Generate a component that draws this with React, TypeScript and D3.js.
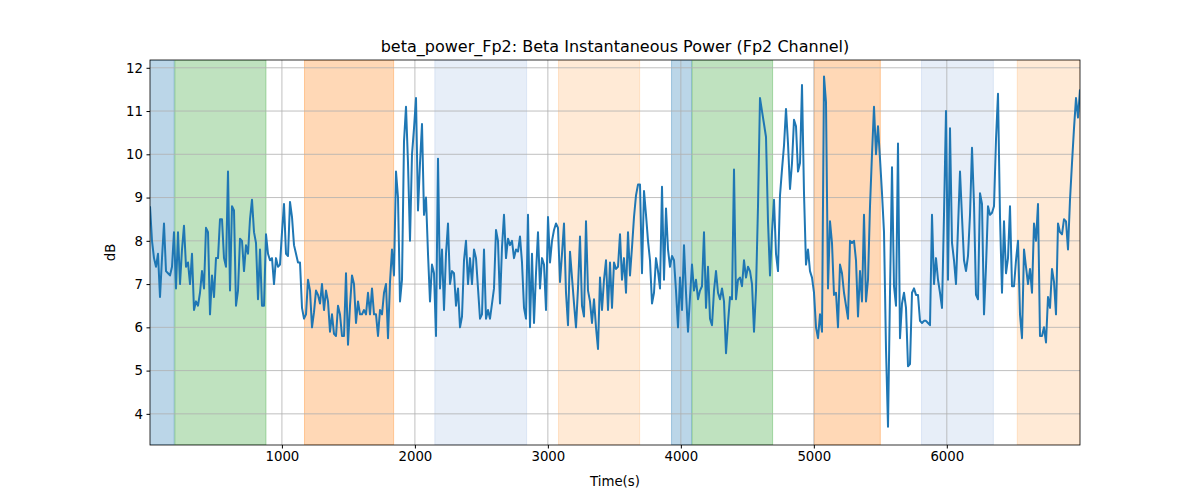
import React, { useEffect, useRef } from 'react';
import * as d3 from 'd3';

const title = 'beta_power_Fp2: Beta Instantaneous Power (Fp2 Channel)';
const tStart = 8;
const tStep = 15.04;

const values1 = [8.8, 8.0, 7.6, 7.4, 7.7, 6.7, 7.6, 8.4, 7.3, 7.25, 7.2, 7.4, 8.2, 6.9, 8.2, 7.0, 7.8, 8.35, 7.4, 7.5, 7.0, 7.7, 6.4, 6.6, 6.5, 6.8, 7.3, 6.9, 8.3, 8.2, 6.3, 7.2, 6.7, 7.6, 7.6, 8.5, 8.5, 7.6, 7.4, 9.6, 6.85, 8.8, 8.7, 6.5, 6.85, 8.05, 8.0, 7.3, 7.9, 7.7, 8.5, 8.95, 8.2, 7.95, 6.65, 7.8, 6.5, 6.5, 8.15, 7.7, 7.55, 7.6, 7.0, 7.6, 7.4, 7.45, 8.2, 8.85, 7.7, 7.65, 8.9, 8.55, 7.9, 7.7, 7.5, 7.5, 6.45, 6.2, 6.3, 7.1, 6.85, 6.0, 6.35, 6.85, 6.75, 6.55, 7.0, 6.4, 6.85, 6.6, 5.9, 6.3, 5.85, 5.8, 6.5, 6.3, 5.8, 5.8, 7.25, 5.6, 6.5, 7.2, 7.0, 6.1, 6.6, 6.3, 6.3, 6.4, 6.3, 6.8, 6.3, 6.9, 6.3, 6.3, 5.8, 6.4, 6.3, 6.8, 7.0, 5.75, 7.05];
const values2 = [7.8, 7.2, 9.6, 9.0, 6.6, 7.1, 10.3, 11.1, 9.8, 8.0, 10.0, 10.6, 11.3, 8.7, 9.8, 10.7, 8.6, 9.0, 7.7, 6.6, 7.45, 7.25, 5.8, 9.9, 6.9, 7.8, 6.4, 7.7, 8.4, 7.0, 7.3, 7.25, 6.5, 6.9, 6.0, 6.25, 7.55, 8.0, 7.0, 7.6, 7.0, 7.8, 7.6, 6.9, 6.2, 6.3, 7.8, 6.2, 6.4, 6.2, 6.55, 6.9, 8.25, 8.0, 6.55, 7.85, 8.6, 7.6, 8.05, 7.9, 8.0, 7.6, 7.8, 7.75, 8.1, 7.5, 6.45, 6.2, 8.6, 6.0, 7.7, 6.1, 7.25, 8.2, 6.9, 7.6, 7.45, 6.4, 8.55, 7.5, 8.0, 8.25, 8.4, 8.3, 7.05, 7.7, 8.4, 6.8, 6.05, 7.75, 7.15, 6.55, 6.0, 6.9, 8.1, 6.5, 6.25, 8.45, 6.85, 6.6, 6.1, 6.65, 6.0, 5.5, 7.15, 6.4, 7.1, 7.55, 6.4, 7.5, 6.45, 7.5, 7.35, 7.4, 8.15];
const values3 = [7.1, 7.6, 6.8, 8.2, 7.2, 7.85, 8.55, 9.05, 9.3, 9.3, 7.25, 9.15, 8.6, 8.0, 7.55, 6.55, 6.8, 7.6, 7.3, 6.9, 9.25, 7.1, 8.75, 7.8, 7.4, 7.65, 7.55, 6.85, 6.0, 7.15, 6.4, 7.9, 6.8, 5.9, 6.7, 7.45, 6.85, 7.1, 6.65, 6.85, 6.95, 8.2, 6.45, 7.4, 6.2, 6.05, 6.85, 7.3, 6.8, 6.65, 6.9, 6.6, 5.4, 6.1, 6.7, 6.65, 9.65, 6.65, 7.1, 7.15, 6.95, 7.55, 7.15, 7.4, 7.3, 7.0, 5.9, 6.85, 8.8, 11.3, 11.0, 10.7, 10.4, 8.45, 7.2, 8.2, 8.95, 7.7, 7.3, 9.05, 9.65, 10.2, 11.05, 10.25, 9.2, 9.8, 10.8, 10.65, 9.6, 9.8, 11.6, 9.1, 7.45, 7.8, 7.3, 7.15, 6.8, 6.0, 5.75, 6.3, 5.9, 11.8, 11.2, 6.9, 8.45, 7.95, 6.75, 6.8, 6.0, 7.45, 7.25, 6.8, 6.5, 6.2, 8.0];
const values4 = [7.95, 8.0, 7.55, 6.25, 7.3, 6.6, 8.6, 6.6, 7.1, 8.8, 10.0, 11.1, 10.0, 10.65, 9.9, 9.1, 8.2, 5.5, 3.7, 6.8, 9.7, 6.95, 6.5, 10.25, 5.75, 6.55, 6.8, 6.45, 5.1, 5.15, 6.8, 6.9, 6.75, 6.75, 6.15, 6.1, 6.15, 6.15, 6.1, 6.05, 8.6, 7.0, 7.6, 7.1, 6.8, 6.45, 8.6, 11.0, 7.1, 10.6, 7.95, 7.55, 7.0, 8.3, 9.6, 8.55, 7.55, 7.3, 7.65, 8.6, 10.15, 8.85, 6.75, 6.65, 9.1, 8.85, 6.3, 7.4, 8.8, 8.6, 8.65, 8.8, 10.35, 11.4, 8.55, 6.8, 8.45, 7.25, 7.6, 8.8, 6.95, 6.95, 7.55, 8.0, 6.3, 5.75, 7.8, 7.4, 7.0, 7.35, 6.8, 8.4, 8.0, 8.85, 5.8, 5.8, 6.0, 5.65, 6.7, 6.45, 7.35, 7.05, 6.3, 8.4, 8.2, 8.15, 8.5, 8.45, 7.8, 8.95, 9.8, 10.6, 11.3, 10.85, 11.5];

const values = [...values1, ...values2, ...values3, ...values4];

// shaded bands: start, end, colour
const spanStarts = [0, 195, 1170, 2150, 3080, 3930, 4085, 5005, 5810, 6530];
const spanEnds = [190, 880, 1840, 2840, 3690, 4080, 4690, 5500, 6350, 7000];
const spanColors = ['#1f77b4', '#2ca02c', '#ff7f0e', '#aec7e8', '#ffbb78', '#1f77b4', '#2ca02c', '#ff7f0e', '#aec7e8', '#ffbb78'];

const xTicks = [1000, 2000, 3000, 4000, 5000, 6000];
const yTicks = [4, 5, 6, 7, 8, 9, 10, 11, 12];

const App: React.FC = () => {
  const svgRef = useRef<SVGSVGElement>(null);

  useEffect(() => {
    document.body.style.margin = '0';
    const svg = d3.select(svgRef.current);
    svg.selectAll('*').remove();
    const font = 'DejaVu Sans, sans-serif';

    const left = 150, right = 1080, top = 60, bottom = 445;
    const times = values.map((_, i) => tStart + i * tStep);
    const x = d3.scaleLinear().domain([tStart, times[times.length - 1]]).range([left, right]);
    const y = d3.scaleLinear().domain([3.28, 12.18]).range([bottom, top]);

    svg.append('rect').attr('width', 1200).attr('height', 500).attr('fill', '#fff');

    const clip = svg.append('defs').append('clipPath').attr('id', 'plot');
    clip.append('rect').attr('x', left).attr('y', top).attr('width', right - left).attr('height', bottom - top);

    const plot = svg.append('g').attr('clip-path', 'url(#plot)');

    plot.selectAll('.span')
      .data(spanStarts)
      .enter().append('rect')
      .attr('x', (d) => x(d))
      .attr('y', top)
      .attr('width', (d, i) => x(spanEnds[i]) - x(d))
      .attr('height', bottom - top)
      .attr('fill', (d, i) => spanColors[i])
      .attr('fill-opacity', 0.3)
      .attr('stroke', (d, i) => spanColors[i])
      .attr('stroke-opacity', 0.35);

    // grid
    plot.selectAll('.gx').data(xTicks).enter().append('line')
      .attr('x1', (d) => x(d)).attr('x2', (d) => x(d))
      .attr('y1', top).attr('y2', bottom)
      .attr('stroke', '#b0b0b0').attr('stroke-width', 0.8);
    plot.selectAll('.gy').data(yTicks).enter().append('line')
      .attr('x1', left).attr('x2', right)
      .attr('y1', (d) => y(d)).attr('y2', (d) => y(d))
      .attr('stroke', '#b0b0b0').attr('stroke-width', 0.8);

    const line = d3.line<number>()
      .x((d, i) => x(times[i]))
      .y((d) => y(d));
    plot.append('path')
      .attr('d', line(values))
      .attr('fill', 'none')
      .attr('stroke', '#1f77b4')
      .attr('stroke-width', 2)
      .attr('stroke-linejoin', 'round');

    svg.append('rect')
      .attr('x', left).attr('y', top)
      .attr('width', right - left).attr('height', bottom - top)
      .attr('fill', 'none').attr('stroke', '#000').attr('stroke-width', 0.8);

    const xAxis = svg.append('g').attr('transform', `translate(0,${bottom})`)
      .call(d3.axisBottom(x).tickValues(xTicks).tickSize(3.5).tickPadding(3.5).tickFormat(d3.format('d')));
    xAxis.select('.domain').remove();
    xAxis.selectAll('text').attr('font-family', font).attr('font-size', 13.3).attr('fill', '#000');

    const yAxis = svg.append('g').attr('transform', `translate(${left},0)`)
      .call(d3.axisLeft(y).tickValues(yTicks).tickSize(3.5).tickPadding(3.5).tickFormat(d3.format('d')));
    yAxis.select('.domain').remove();
    yAxis.selectAll('text').attr('font-family', font).attr('font-size', 13.3).attr('fill', '#000');

    svg.append('text').attr('x', (left + right) / 2).attr('y', 52)
      .attr('text-anchor', 'middle').attr('font-family', font).attr('font-size', 16)
      .text(title);
    svg.append('text').attr('x', (left + right) / 2).attr('y', 486)
      .attr('text-anchor', 'middle').attr('font-family', font).attr('font-size', 13.3)
      .text('Time(s)');
    svg.append('text').attr('transform', `translate(115,${(top + bottom) / 2}) rotate(-90)`)
      .attr('text-anchor', 'middle').attr('font-family', font).attr('font-size', 13.3)
      .text('dB');
  }, []);

  return <svg ref={svgRef} width={1200} height={500} style={{ display: 'block' }} />;
};

export default App;
